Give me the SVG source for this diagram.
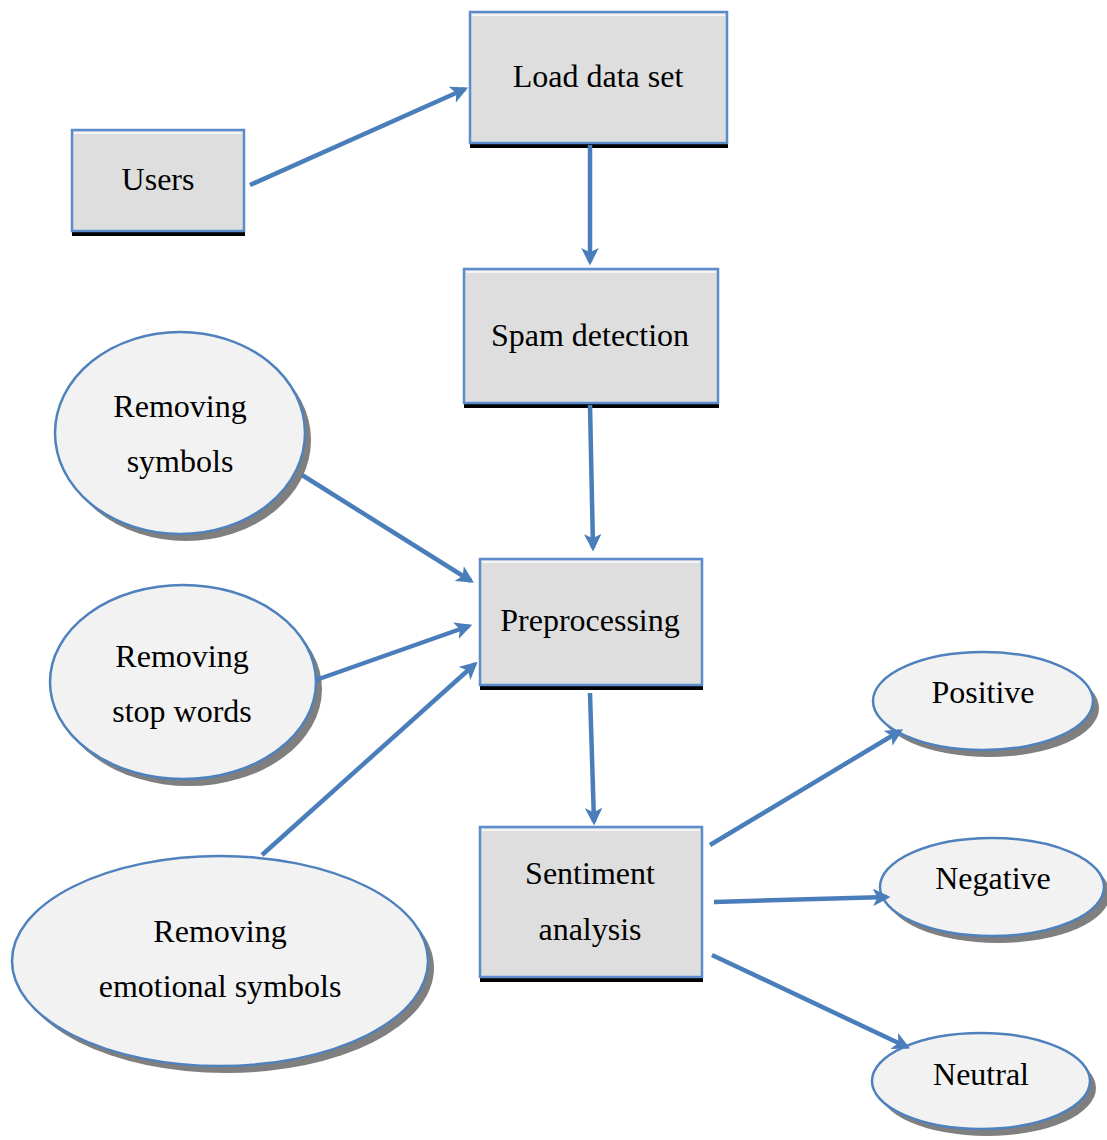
<svg xmlns="http://www.w3.org/2000/svg" width="1107" height="1140" viewBox="0 0 1107 1140">
  <style>
    .box { fill: #dedede; stroke: #5b8ccb; stroke-width: 2.5; }
    .boxshadow { fill: #000000; }
    .hl { stroke: #f4f4f4; stroke-width: 2; }
    .oval { fill: #f2f2f2; stroke: #4f81bd; stroke-width: 2.5; }
    .ovalshadow { fill: #7f7f7f; }
    .lbl { font-family: "Liberation Serif", "Times New Roman", serif; font-size: 32px; fill: #000000; text-anchor: middle; }
    .edge { stroke: #4a7ebb; stroke-width: 4.5; fill: none; marker-end: url(#arrow); }
  </style>
  <defs>
    <marker id="arrow" viewBox="0 0 10 10" refX="8" refY="5" markerWidth="3.9" markerHeight="3.9" orient="auto" markerUnits="strokeWidth">
      <path d="M0,0 L10,5 L0,10 L2.5,5 Z" fill="#4a7ebb"/>
    </marker>
  </defs>
  <rect width="1107" height="1140" fill="#ffffff"/>

  <!-- process boxes -->
  <g id="node-load">
    <rect class="boxshadow" x="470" y="17" width="258" height="131"/>
    <rect class="box" x="470" y="12" width="257" height="131"/>
    <line class="hl" x1="472" y1="15" x2="725" y2="15"/>
    <text class="lbl" x="598" y="87">Load data set</text>
  </g>
  <g id="node-users">
    <rect class="boxshadow" x="72" y="135" width="173" height="101"/>
    <rect class="box" x="72" y="130" width="172" height="101"/>
    <line class="hl" x1="74" y1="133" x2="242" y2="133"/>
    <text class="lbl" x="158" y="190">Users</text>
  </g>
  <g id="node-spam">
    <rect class="boxshadow" x="464" y="274" width="255" height="134"/>
    <rect class="box" x="464" y="269" width="254" height="134"/>
    <line class="hl" x1="466" y1="272" x2="716" y2="272"/>
    <text class="lbl" x="590" y="346">Spam detection</text>
  </g>
  <g id="node-pre">
    <rect class="boxshadow" x="480" y="564" width="223" height="126"/>
    <rect class="box" x="480" y="559" width="222" height="126"/>
    <line class="hl" x1="482" y1="562" x2="700" y2="562"/>
    <text class="lbl" x="590" y="631">Preprocessing</text>
  </g>
  <g id="node-sentiment">
    <rect class="boxshadow" x="480" y="832" width="223" height="150"/>
    <rect class="box" x="480" y="827" width="222" height="150"/>
    <line class="hl" x1="482" y1="830" x2="700" y2="830"/>
    <text class="lbl" x="590" y="884">Sentiment</text>
    <text class="lbl" x="590" y="940">analysis</text>
  </g>

  <!-- preprocessing steps -->
  <g id="node-rm-symbols">
    <ellipse class="ovalshadow" cx="186" cy="440" rx="125" ry="101"/>
    <ellipse class="oval" cx="180" cy="433" rx="125" ry="101"/>
    <text class="lbl" x="180" y="417">Removing</text>
    <text class="lbl" x="180" y="472">symbols</text>
  </g>
  <g id="node-rm-stopwords">
    <ellipse class="ovalshadow" cx="189" cy="689" rx="133" ry="97"/>
    <ellipse class="oval" cx="183" cy="682" rx="133" ry="97"/>
    <text class="lbl" x="182" y="667">Removing</text>
    <text class="lbl" x="182" y="722">stop words</text>
  </g>
  <g id="node-rm-emotional">
    <ellipse class="ovalshadow" cx="226" cy="968" rx="208" ry="105"/>
    <ellipse class="oval" cx="220" cy="961" rx="208" ry="105"/>
    <text class="lbl" x="220" y="942">Removing</text>
    <text class="lbl" x="220" y="997">emotional symbols</text>
  </g>

  <!-- sentiment classes -->
  <g id="node-positive">
    <ellipse class="ovalshadow" cx="989" cy="708" rx="110" ry="49"/>
    <ellipse class="oval" cx="983" cy="701" rx="110" ry="49"/>
    <text class="lbl" x="983" y="703">Positive</text>
  </g>
  <g id="node-negative">
    <ellipse class="ovalshadow" cx="998" cy="894" rx="112" ry="49"/>
    <ellipse class="oval" cx="992" cy="887" rx="112" ry="49"/>
    <text class="lbl" x="993" y="889">Negative</text>
  </g>
  <g id="node-neutral">
    <ellipse class="ovalshadow" cx="987" cy="1088" rx="109" ry="48"/>
    <ellipse class="oval" cx="981" cy="1081" rx="109" ry="48"/>
    <text class="lbl" x="981" y="1085">Neutral</text>
  </g>

  <!-- connectors -->
  <g id="connectors">
    <line class="edge" x1="250" y1="185" x2="465" y2="89"/>
    <line class="edge" x1="590" y1="145" x2="590" y2="262"/>
    <line class="edge" x1="590" y1="405" x2="593" y2="548"/>
    <line class="edge" x1="302" y1="475" x2="471" y2="581"/>
    <line class="edge" x1="316" y1="680" x2="469" y2="626"/>
    <line class="edge" x1="262" y1="855" x2="475" y2="664"/>
    <line class="edge" x1="590" y1="693" x2="594" y2="822"/>
    <line class="edge" x1="710" y1="845" x2="900" y2="731"/>
    <line class="edge" x1="714" y1="902" x2="887" y2="897"/>
    <line class="edge" x1="712" y1="955" x2="907" y2="1047"/>
  </g>
</svg>
